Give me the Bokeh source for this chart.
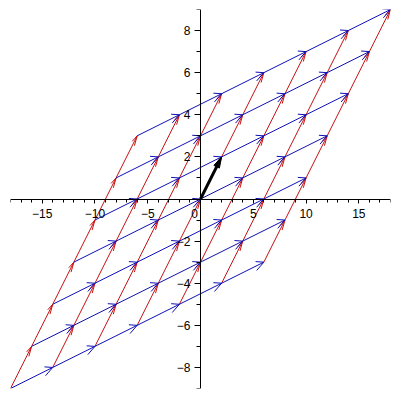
import numpy as np
from bokeh.plotting import figure
from bokeh.models import FixedTicker
from bokeh.embed import file_html
from bokeh.resources import INLINE

# Lattice: integer grid mapped by vectors u (blue) and v (red)
grid = [-3, -2, -1, 0, 1, 2, 3]
u_vec = [4, 1]   # blue direction
v_vec = [2, 2]   # red direction
black_vec = [2, 2]  # thick black arrow from origin

x_ticks_major = [-15, -10, -5, 0, 5, 10, 15]
y_ticks_major = [-8, -6, -4, -2, 2, 4, 6, 8]

BLUE = "#1010b4"
RED = "#c81010"
HEAD_FRAC = 0.19
HEAD_ANG = np.radians(16)

u = np.array(u_vec, float)
v = np.array(v_vec, float)

def segs(dir_vec, other_vec):
    x0, y0, x1, y1 = [], [], [], []
    for j in grid:
        for a, b in zip(grid[:-1], grid[1:]):
            s = a * dir_vec + j * other_vec
            e = b * dir_vec + j * other_vec
            x0.append(s[0]); y0.append(s[1]); x1.append(e[0]); y1.append(e[1])
    return np.array(x0), np.array(y0), np.array(x1), np.array(y1)

def heads(x0, y0, x1, y1):
    hx0, hy0, hx1, hy1 = [], [], [], []
    for a, b, c, d in zip(x0, y0, x1, y1):
        dx, dy = a - c, b - d
        L = np.hypot(dx, dy)
        ux, uy = dx / L, dy / L
        hl = HEAD_FRAC * L
        for ang in (HEAD_ANG, -HEAD_ANG):
            ca, sa = np.cos(ang), np.sin(ang)
            rx = ux * ca - uy * sa
            ry = ux * sa + uy * ca
            hx0.append(c); hy0.append(d)
            hx1.append(c + hl * rx); hy1.append(d + hl * ry)
    return hx0, hy0, hx1, hy1

W, H = 392, 392
ML, MR, MT, MB = 10, 2, 9, 4
p = figure(width=W, height=H, x_range=(-18, 18), y_range=(-9, 9),
           output_backend="svg", toolbar_location=None,
           min_border_left=ML, min_border_right=MR, min_border_top=MT, min_border_bottom=MB)
p.grid.visible = False
p.outline_line_color = None
p.background_fill_color = "white"

rx0, ry0, rx1, ry1 = segs(v, u)
bx0, by0, bx1, by1 = segs(u, v)

p.segment(rx0, ry0, rx1, ry1, line_color=RED, line_width=1)
p.segment(*heads(rx0, ry0, rx1, ry1), line_color=RED, line_width=1)
p.segment(bx0, by0, bx1, by1, line_color=BLUE, line_width=1)
p.segment(*heads(bx0, by0, bx1, by1), line_color=BLUE, line_width=1)

# thick black arrow: shaft + narrow filled head (shaped in screen proportions)
sx = (W - ML - MR) / 36.0
sy = (H - MT - MB) / 18.0
bv = np.array(black_vec, float)
pix = np.array([bv[0] * sx, bv[1] * sy])
plen = np.hypot(*pix)
pd = pix / plen
pn = np.array([-pd[1], pd[0]])
head_len, head_half = 11.0, 3.0
base = pix - pd * head_len
pts = [pix, base + pn * head_half, base - pn * head_half]
hx = [q[0] / sx for q in pts]
hy = [q[1] / sy for q in pts]
shaft_end = base + pd * 2
p.line([0, shaft_end[0] / sx], [0, shaft_end[1] / sy], line_color="black", line_width=3)
p.patch(hx, hy, fill_color="black", line_color="black", line_width=1)

minus = "\u2212"
def lab(t):
    if t == 0:
        return "0\u2003"
    return (minus + str(abs(t))) if t < 0 else str(t)

xa = p.xaxis[0]
xa.fixed_location = 0
xa.ticker = FixedTicker(ticks=x_ticks_major, minor_ticks=list(range(-18, 19)))
xa.major_label_overrides = {t: lab(t) for t in x_ticks_major}
xa.major_tick_in = 0
xa.major_tick_out = 4
xa.minor_tick_in = 0
xa.minor_tick_out = 3
xa.major_label_standoff = 4

ya = p.yaxis[0]
ya.fixed_location = 0
ya.ticker = FixedTicker(ticks=y_ticks_major, minor_ticks=list(range(-9, 10)))
ya.major_label_overrides = {t: lab(t) for t in y_ticks_major}
ya.major_tick_in = 0
ya.major_tick_out = 6
ya.minor_tick_in = 0
ya.minor_tick_out = 4
ya.major_label_standoff = 4

for ax in (xa, ya):
    ax.axis_line_color = "black"
    ax.major_tick_line_color = "black"
    ax.minor_tick_line_color = "black"
    ax.major_label_text_font = "Liberation Sans"
    ax.major_label_text_font_size = "12px"
    ax.major_label_text_color = "black"

open("out.html", "w").write(file_html(p, INLINE))
